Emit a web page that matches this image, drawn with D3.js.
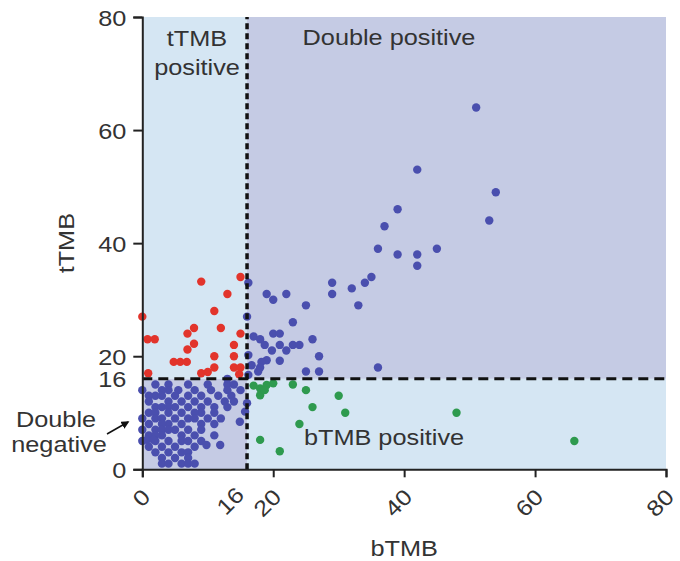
<!DOCTYPE html>
<html>
<head>
<meta charset="utf-8">
<script src="https://cdn.jsdelivr.net/npm/d3@7"></script>
<style>
  html, body { margin: 0; padding: 0; background: #fff; }
  svg { display: block; }
  text { font-family: "Liberation Sans", Arial, sans-serif; fill: #333; }
</style>
</head>
<body>
<svg id="chart" width="680" height="561"></svg>
<script>
// ---- data ----
const xTicks = [0, 16, 20, 40, 60, 80];
const yTicks = [0, 16, 20, 40, 60, 80];
const cutoff = 16;
const xLabel = "bTMB";
const yLabel = "tTMB";
const regionLabels = ["tTMB", "positive", "Double positive", "bTMB positive", "Double", "negative"];

// tTMB positive only (red): [bTMB, tTMB]
const redPoints = [
  [0,27],[0.8,23],[1.9,23],[0.9,17],[4.8,19],[5.8,19],[6.8,19],[6.9,21.2],[7.9,22.2],
  [6.9,24],[7.9,25],[9,33.2],[9,17],[10,17.2],[11,18],[11,20],[11,28],[12,25],[13,31],
  [14,22],[14,20],[14,18],[15,18],[15,24],[15,34],[14.8,16.8]
];

// bTMB positive only (green)
const greenPoints = [
  [17,14.8],[18,14.3],[19,14.9],[20,15.2],[18,13.1],[18.7,14],[23,15],[25,14],[30,13],
  [26,11],[31,10],[24,8],[18,5.2],[21,3.2],[48,10],[66,5]
];

// double positive (blue)
const bluePosPoints = [
  [51,64],[42,53],[54,49],[53,44],[39,46],[37,43],[36,39],[39,38],[42,38],[42,36],[45,39],
  [35,34],[34,33],[33,29],[36,18],[29,33],[29,31],[32,32],[19,31],[20,30],[22,31],[25,29],
  [23,26],[20,24],[21,24],[16.2,33],[16,27],[17,23.5],[18,23],[18.7,22],[19.8,21],[21,22],
  [22,21],[23,22],[24,22],[26,23],[27,20],[16.2,20.2],[19,19.3],[21,19.2],[16.7,18.4],
  [18.2,19],[16.2,16.7],[17.7,17.3],[18,18],[25,17.3],[27,17.3]
];

// double negative (blue)
const blueNegPoints = [
  [2,15],[4,15],[7,15],[10,15],[13,15],[14,15],[13,16],
  [0,14],[4,14],[5.5,14],[8,14],[10.5,14],[13,14],[15,14],[3,14],
  [2,13],[3,13],[5,13],[7,13],[9,13],[11.6,13],[13.6,13],[1,13],
  [1,12],[4,12],[6,12],[8,12],[10,12],[12.6,12],[14,12],[16,11.7],
  [2,11],[3,11],[5,11],[7,11],[9,11],[11,11],[13,11],[4,11],
  [1,10],[4,10],[6,10],[9,10],[11,10],[15.7,10.2],[2,10],[8,10],
  [0,9],[2,9],[3,9],[5,9],[7,9],[8,9],[10,9],[12,9],
  [1,8],[4,8],[6,8],[9,8],[11,8],[3,8],[14.9,8.4],
  [0,7],[2,7],[3,7],[5,7],[7,7],[9,7],[4,7],
  [1,6],[3,6],[6,6],[8,6],[11,6],[2,6],
  [0,5],[2,5],[4,5],[6,5],[7,5],[9,5],[0.7,5.2],[1.7,5.2],
  [1,4],[3,4],[5,4],[8,4],[9.8,4.3],[11.9,4.3],
  [2,3],[4,3],[6,3],[7,3],
  [3,2],[5,2],[7,2],
  [3,1],[4,1],[6,1],[7,1],[8,1]
];

// ---- drawing ----
const svg = d3.select("#chart");
const x = d3.scaleLinear().domain([0, 80]).range([142.3, 666]);
const y = d3.scaleLinear().domain([0, 80]).range([469.3, 17]);
const SX = 1.15; // horizontal stretch of text as in the reference

const lightBlue = "#d5e6f3";
const lavender = "#c5cbe4";

// quadrant backgrounds
const quads = [
  {x0: 0, x1: cutoff, y0: cutoff, y1: 80, c: lightBlue},
  {x0: cutoff, x1: 80, y0: cutoff, y1: 80, c: lavender},
  {x0: 0, x1: cutoff, y0: 0, y1: cutoff, c: lavender},
  {x0: cutoff, x1: 80, y0: 0, y1: cutoff, c: lightBlue}
];
svg.append("g").selectAll("rect").data(quads).join("rect")
  .attr("x", d => x(d.x0)).attr("width", d => x(d.x1) - x(d.x0))
  .attr("y", d => y(d.y1)).attr("height", d => y(d.y0) - y(d.y1))
  .attr("fill", d => d.c);

// points
function dots(data, color) {
  svg.append("g").selectAll("circle").data(data).join("circle")
    .attr("cx", d => x(d[0])).attr("cy", d => y(d[1]))
    .attr("r", 4.2).attr("fill", color);
}
dots(blueNegPoints, "#4a4fae");
dots(bluePosPoints, "#4a4fae");
dots(redPoints, "#e2342b");
dots(greenPoints, "#2e9a4e");

// dashed cutoff lines
svg.append("line")
  .attr("x1", x(cutoff)).attr("x2", x(cutoff)).attr("y1", y(0)).attr("y2", y(80))
  .attr("stroke", "#111").attr("stroke-width", 3.5).attr("stroke-dasharray", "6,4");
svg.append("line")
  .attr("x1", x(0)).attr("x2", x(80)).attr("y1", y(cutoff)).attr("y2", y(cutoff))
  .attr("stroke", "#111").attr("stroke-width", 3).attr("stroke-dasharray", "10,6");

// axes
const yAxis = svg.append("g").attr("transform", `translate(${x(0)},0)`)
  .call(d3.axisLeft(y).tickValues(yTicks).tickSize(9).tickFormat(d3.format("d")));
const xAxis = svg.append("g").attr("transform", `translate(0,${y(0)})`)
  .call(d3.axisBottom(x).tickValues(xTicks).tickSize(8).tickFormat(d3.format("d")));
[yAxis, xAxis].forEach(a => {
  a.select(".domain").attr("stroke", "#222").attr("stroke-width", 2);
  a.selectAll(".tick line").attr("stroke", "#222").attr("stroke-width", 2);
});
yAxis.selectAll(".tick").filter(d => d === cutoff).select("line").remove();
xAxis.selectAll(".tick").filter(d => d === cutoff).select("line").remove();

yAxis.selectAll(".tick text")
  .attr("x", null).attr("dy", null)
  .attr("font-size", 22).attr("fill", "#333")
  .attr("text-anchor", "end")
  .attr("transform", `translate(-16,8) scale(${SX},1)`);

xAxis.selectAll(".tick text")
  .attr("y", null).attr("dy", null)
  .attr("font-size", 22).attr("fill", "#333")
  .attr("text-anchor", "end")
  .attr("transform", d => d === cutoff
    ? `translate(-2,27) rotate(-45) scale(${SX},1)`
    : `translate(9,29) rotate(-45) scale(${SX},1)`);

// axis titles
svg.append("text").text(yLabel)
  .attr("font-size", 22).attr("text-anchor", "middle")
  .attr("transform", `translate(74,${y(40)}) rotate(-90) scale(${SX},1)`);
svg.append("text").text(xLabel)
  .attr("font-size", 22).attr("text-anchor", "middle")
  .attr("transform", `translate(${x(40)},556) scale(${SX},1)`);

// region labels
function label(t, px, py, anchor) {
  svg.append("text").text(t)
    .attr("font-size", 22).attr("text-anchor", anchor)
    .attr("transform", `translate(${px},${py}) scale(${SX},1)`);
}
label(regionLabels[0], 197, 46, "middle");
label(regionLabels[1], 197, 75, "middle");
label(regionLabels[2], 389, 45, "middle");
label(regionLabels[3], 384, 445, "middle");
label(regionLabels[4], 56, 427, "middle");
label(regionLabels[5], 59, 452, "middle");

// arrow
svg.append("defs").append("marker")
  .attr("id", "ah").attr("viewBox", "0 0 10 10").attr("refX", 8).attr("refY", 5)
  .attr("markerWidth", 5).attr("markerHeight", 5).attr("orient", "auto")
  .append("path").attr("d", "M0,0 L10,5 L0,10 Z").attr("fill", "#111");
svg.append("line")
  .attr("x1", 107).attr("y1", 434).attr("x2", 128).attr("y2", 422)
  .attr("stroke", "#111").attr("stroke-width", 1.6).attr("marker-end", "url(#ah)");
</script>
</body>
</html>
